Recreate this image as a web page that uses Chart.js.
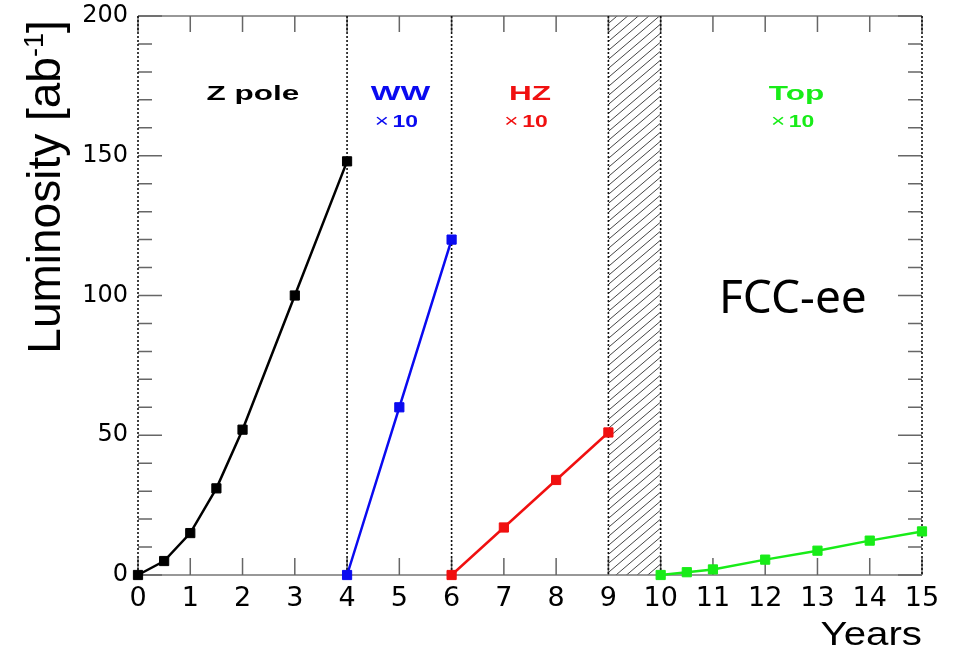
<!DOCTYPE html>
<html>
<head>
<meta charset="utf-8">
<script src="https://cdn.jsdelivr.net/npm/chart.js@4/dist/chart.umd.min.js"></script>
<style>
  body { margin: 0; background: #fff; }
  #wrap { width: 954px; height: 651px; }
</style>
</head>
<body>
<div id="wrap"><canvas id="lumi" width="954" height="651"></canvas></div>
<script>
// Luminosity per run phase (ab^-1), WW / HZ / Top already scaled x10
const yearsZ = [0, 0.5, 1, 1.5, 2, 3, 4];
const lumiZ = [0, 5, 15, 31, 52, 100, 148];
const yearsWW = [4, 5, 6];
const lumiWW = [0, 60, 120];
const yearsHZ = [6, 7, 8, 9];
const lumiHZ = [0, 17, 34, 51];
const yearsTop = [10, 10.5, 11, 12, 13, 14, 15];
const lumiTop = [0, 1, 2, 5.5, 8.7, 12.3, 15.6];

// phase boundaries and shutdown year
const phaseEdges = [4, 6, 9, 10];
const shutdown = [9, 10];

// stage labels: text, centre year, scale note
const stageNames = ["Z pole", "WW", "HZ", "Top"];
const stageYears = [2.2, 5.02, 7.5, 12.6];
const stageScale = ["", "\u00d7 10", "\u00d7 10", "\u00d7 10"];

const BLACK = "#000000", BLUE = "#0a0af0", RED = "#f01010", GREEN = "#18ec18";
const stageColors = [BLACK, BLUE, RED, GREEN];

function pts(xs, ys) {
  return xs.map((x, i) => ({ x: x, y: ys[i] }));
}

function series(label, xs, ys, color) {
  return {
    label: label,
    data: pts(xs, ys),
    borderColor: color,
    backgroundColor: color,
    borderWidth: 2.5,
    pointStyle: "rect",
    pointRadius: 6.5,
    pointBorderWidth: 1,
    pointHoverRadius: 6.5,
    tension: 0,
    clip: false,
  };
}

// hatch, phase lines and frame with inner ticks
const framePlugin = {
  id: "frame",
  beforeDatasetsDraw(chart) {
    const { ctx, chartArea: a, scales } = chart;
    const xs = scales.x, ys = scales.y;

    // shutdown hatch
    const h0 = xs.getPixelForValue(shutdown[0]);
    const h1 = xs.getPixelForValue(shutdown[1]);
    ctx.save();
    ctx.beginPath();
    ctx.rect(h0, a.top, h1 - h0, a.bottom - a.top);
    ctx.clip();
    ctx.strokeStyle = "#444";
    ctx.lineWidth = 1;
    const slope = 0.85, step = 9;
    for (let y = a.top - 100; y < a.bottom + 100; y += step) {
      ctx.beginPath();
      ctx.moveTo(h0, y + (h1 - h0) * slope);
      ctx.lineTo(h1, y);
      ctx.stroke();
    }
    ctx.restore();

    ctx.save();
    // top / bottom solid
    ctx.strokeStyle = "#777";
    ctx.lineWidth = 1.5;
    ctx.beginPath();
    ctx.moveTo(a.left, a.top); ctx.lineTo(a.right, a.top);
    ctx.moveTo(a.left, a.bottom); ctx.lineTo(a.right, a.bottom);
    ctx.stroke();

    // ticks on x (bottom up, top down)
    ctx.strokeStyle = "#666";
    ctx.beginPath();
    for (let v = xs.min; v <= xs.max; v++) {
      const px = xs.getPixelForValue(v);
      ctx.moveTo(px, a.bottom); ctx.lineTo(px, a.bottom - 17);
      ctx.moveTo(px, a.top); ctx.lineTo(px, a.top + 16);
    }
    // ticks on y, major every 50, minor every 10
    for (let v = ys.min; v <= ys.max; v += 10) {
      const py = ys.getPixelForValue(v);
      const len = v % 50 === 0 ? 24 : 14;
      ctx.moveTo(a.left, py); ctx.lineTo(a.left + len, py);
      ctx.moveTo(a.right, py); ctx.lineTo(a.right - len, py);
    }
    ctx.stroke();

    // dotted sides and phase edges
    ctx.strokeStyle = "#111";
    ctx.lineWidth = 1.6;
    ctx.setLineDash([2, 2]);
    ctx.beginPath();
    [xs.min, xs.max].concat(phaseEdges).forEach(v => {
      const px = xs.getPixelForValue(v);
      ctx.moveTo(px, a.top); ctx.lineTo(px, a.bottom);
    });
    ctx.stroke();
    ctx.restore();
  },
  afterDraw(chart) {
    const { ctx, scales } = chart;
    const xs = scales.x;
    ctx.save();
    ctx.textBaseline = "alphabetic";

    // stage names and x10 notes
    stageNames.forEach((name, i) => {
      const cx = xs.getPixelForValue(stageYears[i]);
      ctx.save();
      ctx.translate(cx, 100);
      ctx.scale(1.5, 1);
      ctx.fillStyle = stageColors[i];
      ctx.font = "bold 21px 'Liberation Sans', Arial, sans-serif";
      ctx.textAlign = "center";
      ctx.fillText(name, 0, 0);
      ctx.restore();

      if (stageScale[i]) {
        const parts = stageScale[i].split(" ");
        const reg = "18px 'Liberation Sans', Arial, sans-serif";
        const bold = "bold 17px 'Liberation Sans', Arial, sans-serif";
        ctx.save();
        ctx.translate(cx - 4, 127);
        ctx.scale(1.35, 1);
        ctx.fillStyle = stageColors[i];
        ctx.font = reg;
        const w1 = ctx.measureText(parts[0] + " ").width * 0.85;
        ctx.font = bold;
        const w2 = ctx.measureText(parts[1]).width;
        const x0 = -(w1 + w2) / 2;
        ctx.textAlign = "left";
        ctx.font = reg;
        ctx.fillText(parts[0], x0, 0);
        ctx.font = bold;
        ctx.fillText(parts[1], x0 + w1, 0);
        ctx.restore();
      }
    });

    // y title with superscript
    ctx.save();
    ctx.translate(60, 187);
    ctx.rotate(-Math.PI / 2);
    ctx.fillStyle = "#000";
    const big = "46px 'Liberation Sans', Arial, sans-serif";
    const small = "27px 'Liberation Sans', Arial, sans-serif";
    ctx.font = big;
    const tA = "Luminosity [ab", tC = "]";
    const wA = ctx.measureText(tA).width, wC = ctx.measureText(tC).width;
    ctx.font = small;
    const tB = "-1";
    const wB = ctx.measureText(tB).width;
    const x = -(wA + wB + wC) / 2;
    ctx.textAlign = "left";
    ctx.font = big;
    ctx.fillText(tA, x, 0);
    ctx.font = small;
    ctx.fillText(tB, x + wA, -17);
    ctx.font = big;
    ctx.fillText(tC, x + wA + wB, 0);
    ctx.restore();

    // x title
    ctx.save();
    ctx.translate(chart.chartArea.right, 645);
    ctx.scale(1.22, 1);
    ctx.fillStyle = "#000";
    ctx.font = "33px 'Liberation Sans', Arial, sans-serif";
    ctx.textAlign = "right";
    ctx.fillText("Years", 0, 0);
    ctx.restore();

    // FCC-ee tag
    ctx.fillStyle = "#000";
    ctx.font = "46px 'Noto Sans', sans-serif";
    ctx.textAlign = "left";
    ctx.fillText("FCC-ee", 719, 313);
    ctx.restore();
  },
};

const config = {
  type: "line",
  data: {
    datasets: [
      series("Z pole", yearsZ, lumiZ, BLACK),
      series("WW", yearsWW, lumiWW, BLUE),
      series("HZ", yearsHZ, lumiHZ, RED),
      series("Top", yearsTop, lumiTop, GREEN),
    ],
  },
  options: {
    responsive: false,
    animation: false,
    layout: { padding: { left: 0, right: 32, top: 16, bottom: 0 } },
    plugins: {
      legend: { display: false },
      tooltip: { enabled: false },
    },
    scales: {
      x: {
        type: "linear",
        min: 0,
        max: 15,
        grid: { display: false, drawTicks: false },
        border: { display: false },
        ticks: {
          stepSize: 1,
          autoSkip: false,
          maxRotation: 0,
          padding: 8,
          color: "#000",
          font: { family: "'DejaVu Sans', sans-serif", size: 27 },
        },
        afterFit(scale) {
          scale.height = 76;
          scale.paddingLeft = 0;
          scale.paddingRight = 0;
        },
      },
      y: {
        min: 0,
        max: 200,
        grid: { display: false, drawTicks: false },
        border: { display: false },
        ticks: {
          stepSize: 50,
          padding: 10,
          color: "#000",
          font: { family: "'DejaVu Sans', sans-serif", size: 24 },
        },
        afterFit(scale) {
          scale.width = 138;
          scale.paddingTop = 0;
          scale.paddingBottom = 0;
        },
      },
    },
  },
  plugins: [framePlugin],
};

const lumiChart = new Chart(document.getElementById("lumi"), config);
</script>
</body>
</html>
